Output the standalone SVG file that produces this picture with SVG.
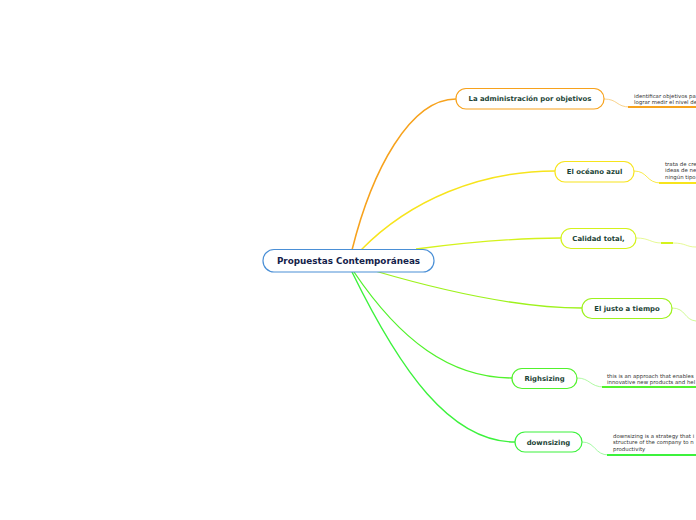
<svg xmlns="http://www.w3.org/2000/svg" width="696" height="520" viewBox="0 0 696 520">
<style>
.node rect{fill:#fff;stroke-width:1.2}
.t{font-family:"DejaVu Sans",Verdana,sans-serif;font-weight:bold;font-size:6.9px;fill:#1b4436;text-anchor:middle}
.c{font-family:"DejaVu Sans",Verdana,sans-serif;font-weight:bold;font-size:8.8px;fill:#14224a;text-anchor:middle}
.n{font-family:"DejaVu Sans",Verdana,sans-serif;font-size:5.4px;fill:#333}
.con path{fill:none}
</style>
<rect width="696" height="520" fill="#fff"/>
<g id="connectors" class="con">
<path d="M352,250 C372,170 410,99 456,99" stroke="#f7a21c" stroke-width="1.5"/>
<path d="M361,250 C410,200 480,171 555,171" stroke="#f7e41c" stroke-width="1.4"/>
<path d="M416,249 C470,242 520,238 561,238" stroke="#d4f21c" stroke-width="1.3"/>
<path d="M375,271 C440,290 520,308 582,308" stroke="#9ef21c" stroke-width="1.3"/>
<path d="M354,272 C400,340 450,378 512,378" stroke="#52f22c" stroke-width="1.3"/>
<path d="M352,272 C400,370 450,442 515,442" stroke="#3cf23c" stroke-width="1.4"/>
<path d="M604,99 C618,99 616,107 630,107" stroke="#f7c870" stroke-width="0.8"/>
<path d="M628,107 L696,107" stroke="#f7a21c" stroke-width="2"/>
<path d="M634,171 C648,171 646,183 661,183" stroke="#f7e41c" stroke-width="0.8"/>
<path d="M659,183 L696,183" stroke="#f7e41c" stroke-width="2"/>
<path d="M636,238 C650,238 650,243 662,243" stroke="#e0f77a" stroke-width="0.8"/>
<path d="M661,243 L673,243" stroke="#d4f21c" stroke-width="2"/>
<path d="M673,243 C686,243 686,247 696,247" stroke="#e0f77a" stroke-width="0.8"/>
<path d="M672,308 C686,308 684,320 696,321" stroke="#c4f77a" stroke-width="0.8"/>
<path d="M577,378 C590,378 590,387 604,387" stroke="#9cf78c" stroke-width="0.8"/>
<path d="M602,387 L696,387" stroke="#52f22c" stroke-width="2"/>
<path d="M582,442 C596,442 594,455 609,455" stroke="#8cf78c" stroke-width="0.8"/>
<path d="M607,455 L696,455" stroke="#3cf23c" stroke-width="2"/>
</g>
<g id="central" class="node">
<rect x="263" y="249.5" width="171" height="22.5" rx="11" stroke="#4a8fd6"/>
<text class="c" x="348.5" y="264">Propuestas Contemporáneas</text>
</g>
<g id="n1" class="node">
<rect x="456" y="88.5" width="148" height="20.5" rx="10" stroke="#f7a21c"/>
<text class="t" x="530" y="101.4">La administración por objetivos</text>
</g>
<g id="n2" class="node">
<rect x="555" y="161.5" width="79" height="20.5" rx="10" stroke="#f7e41c"/>
<text class="t" x="594.5" y="174.4">El océano azul</text>
</g>
<g id="n3" class="node">
<rect x="561" y="228.5" width="75" height="20" rx="10" stroke="#d4f21c"/>
<text class="t" x="598.5" y="241.4">Calidad total,</text>
</g>
<g id="n4" class="node">
<rect x="582" y="298.5" width="90" height="20" rx="10" stroke="#9ef21c"/>
<text class="t" x="627" y="311.4">El justo a tiempo</text>
</g>
<g id="n5" class="node">
<rect x="512" y="368.5" width="65" height="20" rx="10" stroke="#52f22c"/>
<text class="t" x="544.5" y="381.4">Righsizing</text>
</g>
<g id="n6" class="node">
<rect x="515" y="432" width="67" height="20" rx="10" stroke="#3cf23c"/>
<text class="t" x="548.5" y="444.9">downsizing</text>
</g>
<g id="note1">
<text class="n" x="634" y="98">identificar objetivos pa</text>
<text class="n" x="634" y="104">lograr medir el nivel de</text>
</g>
<g id="note2">
<text class="n" x="665" y="166">trata de cre</text>
<text class="n" x="665" y="172">ideas de ne</text>
<text class="n" x="665" y="178.5">ningún tipo</text>
</g>
<g id="note5">
<text class="n" x="607" y="378">this is an approach that enables</text>
<text class="n" x="607" y="384">innovative new products and hel</text>
</g>
<g id="note6">
<text class="n" x="613" y="438">downsizing is a strategy that i</text>
<text class="n" x="613" y="444">structure of the company to n</text>
<text class="n" x="613" y="450.5">productivity</text>
</g>
</svg>
